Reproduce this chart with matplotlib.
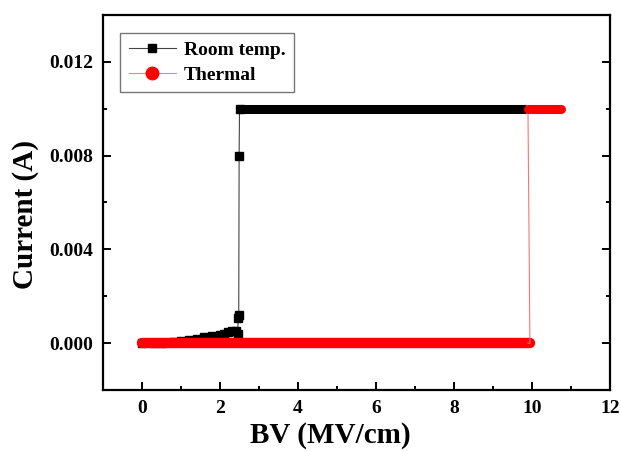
import matplotlib
matplotlib.use("Agg")
import matplotlib.pyplot as plt
from matplotlib.ticker import MultipleLocator

plt.rcParams["font.family"] = ["Liberation Serif", "DejaVu Serif"]
plt.rcParams["font.weight"] = "bold"

# Room temperature sweep: leakage region, breakdown jump, compliance plateau
room_bv = [0.0, 0.3, 0.5, 0.8, 1.0, 1.2, 1.4, 1.6, 1.8, 2.0, 2.1, 2.2, 2.3, 2.4,
           2.45, 2.47, 2.48, 2.49, 2.5]
room_i = [0.0, 0.0, 0.00002, 0.00006, 0.0001, 0.00015, 0.0002, 0.00026, 0.0003,
          0.00035, 0.0004, 0.00046, 0.0005, 0.0005, 0.0004, 0.00107, 0.0012,
          0.0080, 0.0100]
room_plateau_bv = [2.5, 9.85]
room_plateau_i = [0.0100, 0.0100]

# Thermal sweep: flat until breakdown near 9.9 MV/cm
thermal_bv = [0.0, 2.0, 4.0, 6.0, 8.0, 9.9, 9.95, 9.9]
thermal_i = [0.0, 0.0, 0.0, 0.0, 0.0, 0.0, 0.0, 0.0100]
thermal_plateau_bv = [9.9, 10.75]
thermal_plateau_i = [0.0100, 0.0100]

fig = plt.figure(figsize=(6.21, 4.51), dpi=100)
ax = fig.add_axes([0.166, 0.135, 0.816, 0.832])

# room temperature
ax.plot(room_bv, room_i, color="#444444", lw=0.8, marker="s", ms=6,
        mec="black", mfc="black", label="Room temp.")
ax.plot(room_plateau_bv, room_plateau_i, color="black", lw=6.5,
        solid_capstyle="butt")

# thermal
ax.plot(thermal_bv[:-1], thermal_i[:-1], color="red", lw=7.5,
        solid_capstyle="round")
ax.plot(thermal_bv[-3:], thermal_i[-3:], color="#ff7070", lw=0.8)
ax.plot(thermal_plateau_bv, thermal_plateau_i, color="red", lw=6.5,
        solid_capstyle="round")
ax.plot([], [], color="#ff8080", lw=0.8, marker="o", ms=9, mfc="red",
        mec="red", label="Thermal")

ax.set_xlim(-1, 12)
ax.set_ylim(-0.002, 0.014)
ax.xaxis.set_major_locator(MultipleLocator(2))
ax.xaxis.set_minor_locator(MultipleLocator(1))
ax.yaxis.set_major_locator(MultipleLocator(0.004))
ax.yaxis.set_minor_locator(MultipleLocator(0.002))
ax.yaxis.set_major_formatter(matplotlib.ticker.FormatStrFormatter("%.3f"))

for side in ax.spines.values():
    side.set_linewidth(1.6)
ax.tick_params(which="both", direction="in", right=True, top=False, width=1.4,
               labelsize=14)
ax.tick_params(which="major", length=6, pad=7)
ax.tick_params(which="minor", length=3)

ax.set_xlabel("BV (MV/cm)", fontsize=21, fontweight="bold")
ax.set_ylabel("Current (A)", fontsize=21, fontweight="bold")
ax.xaxis.set_label_coords(0.448, -0.085)
ax.yaxis.set_label_coords(-0.126, 0.467)

leg = ax.legend(loc="upper left", bbox_to_anchor=(0.034, 0.952),
                borderaxespad=0, fontsize=14, handlelength=2.4,
                frameon=True, fancybox=False, edgecolor="#555555",
                borderpad=0.45, labelspacing=0.35, handletextpad=0.4)
leg.get_frame().set_linewidth(1.0)

fig.savefig("out.png", dpi=100)
